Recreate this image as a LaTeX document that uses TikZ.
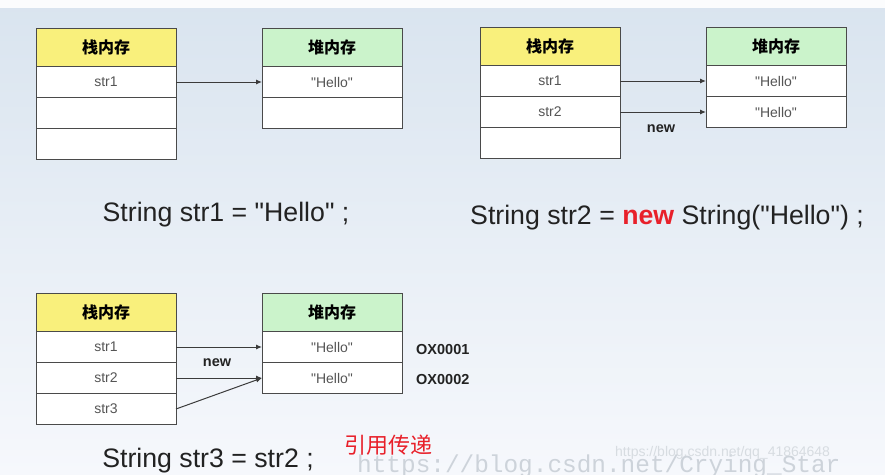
\documentclass[tikz,border=0pt]{standalone}
\usepackage{fontspec}
\setmainfont{Liberation Sans}[Ligatures=TeXOff]
\newfontfamily\cjk{Noto Sans CJK SC}
\newfontfamily\wmmono{Liberation Mono}
\usetikzlibrary{arrows.meta}
\newcommand\dq{\symbol{34}}
\definecolor{linec}{HTML}{4A4A4A}
\definecolor{cellc}{HTML}{555555}
\definecolor{stacky}{HTML}{F9F07C}
\definecolor{heapg}{HTML}{CBF3CB}
\definecolor{codec}{HTML}{222222}
\definecolor{newred}{HTML}{E8202A}
\definecolor{bgtop}{HTML}{D9E4EF}
\definecolor{bgbot}{HTML}{F6F8FC}
\definecolor{wmc}{HTML}{CDD3DA}
\tikzset{
  cell/.style={draw=linec, line width=0.9pt, fill=white, minimum width=140pt,
    minimum height=31pt, inner sep=0pt, outer sep=0pt, anchor=north west,
    text=cellc, font=\fontsize{14}{16}\selectfont},
  stackhdr/.style={cell, fill=stacky, minimum height=38.5pt, text=black,
    font=\fontsize{16}{18}\selectfont\cjk\bfseries},
  heaphdr/.style={stackhdr, fill=heapg},
  ptr/.style={draw=linec!80!black, line width=1pt, -{Latex[length=6pt,width=5pt]}},
  code/.style={anchor=base, text=codec, font=\fontsize{26.7}{30}\selectfont, inner sep=0pt},
  lbl/.style={text=codec, font=\fontsize{14.5}{16}\selectfont\bfseries, inner sep=0pt},
}
\begin{document}
\begin{tikzpicture}[x=1pt,y=-1pt]
\useasboundingbox (0,0) rectangle (885,474);
\shade[top color=bgtop, bottom color=bgbot] (0,0) rectangle (885,474);
\fill[white!90!bgtop] (0,0) rectangle (885,8);

% ---- panel 1
\node[stackhdr] (s1h) at (36,28) {栈内存};
\node[cell] (s1a) at (s1h.south west) {str1};
\node[cell] (s1b) at (s1a.south west) {};
\node[cell] (s1c) at (s1b.south west) {};
\node[heaphdr] (h1h) at (262,28) {堆内存};
\node[cell] (h1a) at (h1h.south west) {\dq Hello\dq};
\node[cell] (h1b) at (h1a.south west) {};
\draw[ptr] (s1a.east) -- (h1a.west);
\node[code] (c1) at (226,221) {String str1 = \dq Hello\dq\ ;};

% ---- panel 2
\node[stackhdr] (s2h) at (480,27) {栈内存};
\node[cell] (s2a) at (s2h.south west) {str1};
\node[cell] (s2b) at (s2a.south west) {str2};
\node[cell] (s2c) at (s2b.south west) {};
\node[heaphdr] (h2h) at (706,27) {堆内存};
\node[cell] (h2a) at (h2h.south west) {\dq Hello\dq};
\node[cell] (h2b) at (h2a.south west) {\dq Hello\dq};
\draw[ptr] (s2a.east) -- (h2a.west);
\draw[ptr] (s2b.east) -- (h2b.west);
\node[lbl] (n2) at (661,129) {new};
\node[code] (c2) at (667,224) {String str2 = \textcolor{newred}{\bfseries new} String(\dq Hello\dq) ;};

% ---- panel 3
\node[stackhdr] (s3h) at (36,293) {栈内存};
\node[cell] (s3a) at (s3h.south west) {str1};
\node[cell] (s3b) at (s3a.south west) {str2};
\node[cell] (s3c) at (s3b.south west) {str3};
\node[heaphdr] (h3h) at (262,293) {堆内存};
\node[cell] (h3a) at (h3h.south west) {\dq Hello\dq};
\node[cell] (h3b) at (h3a.south west) {\dq Hello\dq};
\draw[ptr] (s3a.east) -- (h3a.west);
\draw[ptr] (s3b.east) -- (h3b.west);
\draw[ptr] (s3c.east) -- (h3b.west);
\node[lbl] (n3) at (217,363) {new};
\node[lbl, anchor=west] (a1) at (416,350) {OX0001};
\node[lbl, anchor=west] (a2) at (416,380) {OX0002};

% watermarks
\node[anchor=base west, inner sep=0pt, text=wmc, font=\fontsize{24.4}{26}\selectfont\wmmono] (wm1) at (357,472) {https://blog.csdn.net/Crying\_Star};
\node[anchor=west, inner sep=0pt, text=wmc!80!white, font=\fontsize{14}{16}\selectfont] (wm2) at (615,453) {https://blog.csdn.net/qq\_41864648};

\node[code] (c3) at (208,467) {String str3 = str2 ;};
\node[text=newred, inner sep=0pt, font=\fontsize{22}{24}\selectfont\cjk] (cn) at (388,445) {引用传递};
\end{tikzpicture}
\end{document}
